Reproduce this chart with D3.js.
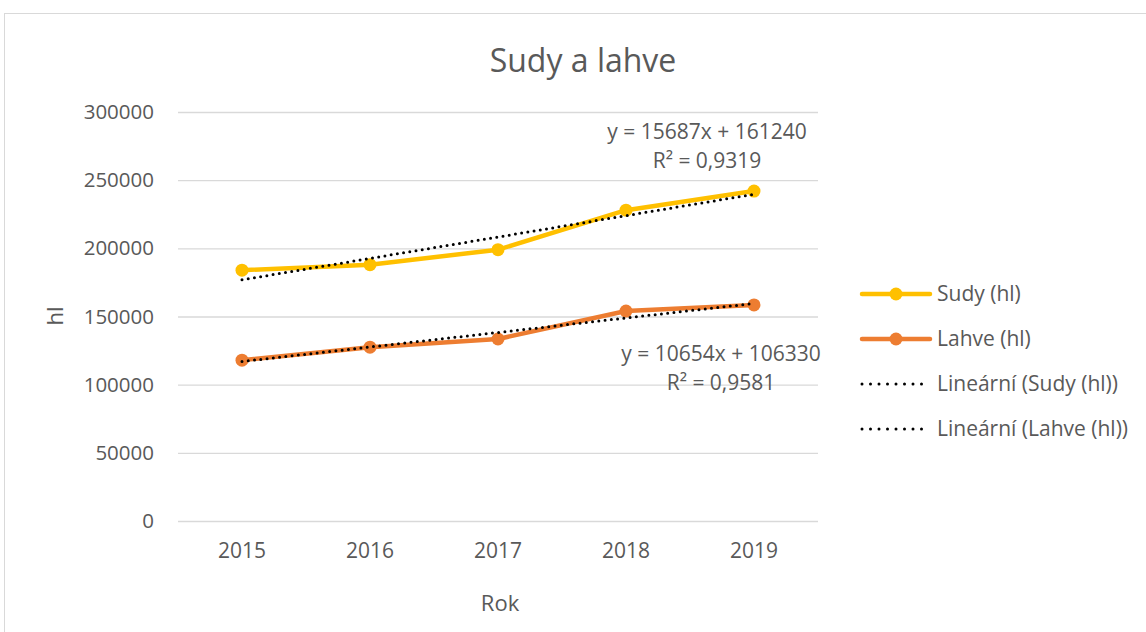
<!DOCTYPE html>
<html><head><meta charset="utf-8">
<script src="https://cdn.jsdelivr.net/npm/d3@7"></script>
<style>body{margin:0;background:#fff}svg{display:block}text{font-family:"Open Sans",sans-serif;fill:#595959}</style>
</head><body><svg id="c" width="1146" height="632"></svg>
<script>
const years = ["2015","2016","2017","2018","2019"];
const sudy = [184000, 188000, 199000, 228000, 242000];
const lahve = [118000, 127500, 133500, 154000, 158500];
const yTicks = [0, 50000, 100000, 150000, 200000, 250000, 300000];
const trendSudy = {slope: 15687, intercept: 161240, r2: "0,9319"};
const trendLahve = {slope: 10654, intercept: 106330, r2: "0,9581"};
const seriesNames = ["Sudy (hl)", "Lahve (hl)", "Lineární (Sudy (hl))", "Lineární (Lahve (hl))"];
const colors = {sudy: "#FFC000", lahve: "#ED7D31"};

const svg = d3.select("#c");
svg.append("rect").attr("x",4.5).attr("y",13.5).attr("width",1160).attr("height",640)
  .attr("fill","#fff").attr("stroke","#d9d9d9");

const x = d3.scaleBand().domain(years).range([178, 818]);
const y = d3.scaleLinear().domain([0, 300000]).range([521, 112]);
const xc = d => x(d) + x.bandwidth()/2;

const ga = svg.append("g").attr("transform","translate(178,0)")
  .call(d3.axisLeft(y).tickValues(yTicks).tickSize(-640).tickFormat(d3.format("d")).tickPadding(24));
ga.select(".domain").remove();
ga.selectAll(".tick line").attr("stroke","#d9d9d9").attr("stroke-width",1.3);
ga.selectAll(".tick text").attr("font-size",20.5).attr("fill","#595959").attr("font-family","Open Sans");

const xa = svg.append("g").attr("transform","translate(0,521)")
  .call(d3.axisBottom(x).tickSize(0).tickPadding(22));
xa.select(".domain").remove();
xa.selectAll(".tick text").attr("font-size",21).attr("fill","#595959").attr("font-family","Open Sans");

svg.append("text").attr("x",583).attr("y",72).attr("text-anchor","middle").attr("font-size",32).text("Sudy a lahve");
svg.append("text").attr("x",500).attr("y",611).attr("text-anchor","middle").attr("font-size",22).text("Rok");
svg.append("text").attr("transform","translate(63,316) rotate(-90)").attr("text-anchor","middle").attr("font-size",22).text("hl");

const line = d3.line().x((d,i)=>xc(years[i])).y(d=>y(d));
function series(data, color){
  svg.append("path").datum(data).attr("d",line).attr("fill","none").attr("stroke",color)
    .attr("stroke-width",4.5).attr("stroke-linejoin","round").attr("stroke-linecap","round");
  svg.selectAll(null).data(data).enter().append("circle")
    .attr("cx",(d,i)=>xc(years[i])).attr("cy",d=>y(d)).attr("r",6.5).attr("fill",color);
}
series(sudy, colors.sudy);
series(lahve, colors.lahve);

function trend(t){
  const vals = years.map((_,i)=>t.slope*(i+1)+t.intercept);
  svg.append("path").datum(vals).attr("d",line).attr("fill","none").attr("stroke","#000")
    .attr("stroke-width",3).attr("stroke-dasharray","0 6.3").attr("stroke-linecap","round");
}
trend(trendSudy);
trend(trendLahve);

function label(t, cx, cy){
  const g = svg.append("g").attr("font-size",21);
  g.append("text").attr("x",cx).attr("y",cy).attr("text-anchor","middle")
    .text(`y = ${t.slope}x + ${t.intercept}`);
  g.append("text").attr("x",cx).attr("y",cy+29).attr("text-anchor","middle")
    .text(`R² = ${t.r2}`);
}
label(trendSudy, 707, 139);
label(trendLahve, 721, 361);

const lg = svg.append("g");
const rows = [294, 339, 384, 429];
seriesNames.forEach((n,i)=>{
  const yy = rows[i];
  if(i<2){
    const c = i===0?colors.sudy:colors.lahve;
    lg.append("line").attr("x1",862).attr("x2",930).attr("y1",yy).attr("y2",yy)
      .attr("stroke",c).attr("stroke-width",4.5).attr("stroke-linecap","round");
    lg.append("circle").attr("cx",896).attr("cy",yy).attr("r",6.5).attr("fill",c);
  } else {
    lg.append("line").attr("x1",862).attr("x2",930).attr("y1",yy).attr("y2",yy)
      .attr("stroke","#000").attr("stroke-width",3).attr("stroke-dasharray","0 8.5").attr("stroke-linecap","round");
  }
  lg.append("text").attr("x",937).attr("y",yy).attr("dy","0.35em").attr("font-size",21).text(n);
});
</script></body></html>
